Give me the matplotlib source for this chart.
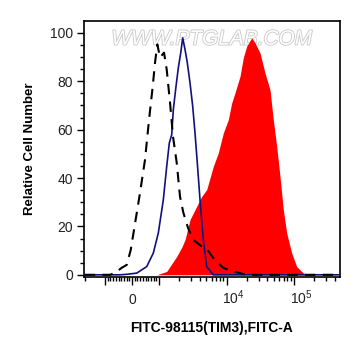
import numpy as np
import matplotlib
matplotlib.use("Agg")
import matplotlib.pyplot as plt
from matplotlib import patheffects, transforms

plt.rcParams['font.family'] = ['Liberation Sans', 'DejaVu Sans']
plt.rcParams['mathtext.fontset'] = 'custom'
plt.rcParams['mathtext.rm'] = 'Liberation Sans'

# control (dashed black)
ctrl_x = [-2000, -815, -630, -381, -196, -48, 296, 481, 630, 767, 852, 937, 1035, 1186,
          1300, 1455, 1612, 1829, 2047, 2291, 2689, 3189, 4292, 5088, 6310, 8874,
          12487, 19923, 60000, 480000]
ctrl_y = [0, 0, 0.8, 2.9, 4.1, 10.3, 33.9, 47.6, 64.1, 77.9, 87.7, 95.2, 89.8, 91.8,
          84.8, 71.2, 57.1, 46.3, 32.3, 25.7, 19.4, 14.5, 11.7, 10.8, 7.0, 2.9,
          1.4, 0, 0, 0]

# second control (navy line)
blue_x = [-2000, -815, -444, -196, 174, 544, 789, 974, 1158, 1300, 1421, 1542, 1629,
          1786, 1931, 2097, 2244, 2428, 2626, 2879, 3157, 3414, 3693, 4050, 4532,
          5088, 6374, 480000]
blue_y = [0, 0, 0, 0.2, 0.7, 3.4, 9.0, 17.3, 31.0, 44.8, 54.5, 57.9, 68.3,
          77.9, 85.5, 91.7, 97.9, 93.1, 87.6, 79.3, 69.6, 58.6, 46.2, 31.0, 14.5,
          3.4, 0, 0]

# FITC-98115 (TIM3) stained sample (red filled)
red_x = [915, 1300, 1829, 2191, 2428, 2879, 3414, 4292, 5088, 6374, 7559, 8966,
         10634, 11940, 13362, 15849, 17740, 19923, 23620, 26431, 31349, 37185,
         44106, 49350, 55407, 62034, 69424, 77944, 92450, 109648, 137340, 193110]
red_y = [0, 1.4, 7.6, 11.6, 14.5, 22.8, 26.9, 32.4, 35.2, 44.8, 50.4, 58.6,
         64.1, 71.0, 75.2, 82.0, 89.7, 94.5, 97.9, 95.9, 91.7, 83.4,
         76.5, 64.1, 53.1, 40.7, 26.9, 17.3, 9.0, 3.4, 0.7, 0]

fig = plt.figure(figsize=(3.61, 3.56), dpi=100)
ax = fig.add_axes([0.2327, 0.2233, 0.709, 0.7185])

ax.fill_between(red_x, red_y, 0, color='#ff0000', lw=0, zorder=2)
ax.plot(blue_x, blue_y, color='#10107f', lw=1.2, zorder=3)
ax.plot(ctrl_x, ctrl_y, color='black', lw=1.5, ls=(0, (5, 3.5)), zorder=4)

ax.set_xscale('symlog', linthresh=1000, linscale=0.36)
ax.set_xlim(-2050, 480000)
ax.set_ylim(-0.7, 105)

ax.set_xticks([-1000, 0, 1000, 10000, 100000])
ax.set_xticklabels(['', '0', '', '$10^4$', '$10^5$'])
minors = [-2000] + list(range(-900, 0, 100)) + list(range(100, 1000, 100))
minors += [m * 1000 for m in range(2, 10)] + [m * 10000 for m in range(2, 10)]
minors += [m * 100000 for m in range(2, 5)]
ax.set_xticks(minors, minor=True)

ax.set_yticks([0, 20, 40, 60, 80, 100])
ax.set_yticks(np.arange(0, 105, 5), minor=True)

ax.tick_params(axis='both', which='major', direction='out', length=5, width=1,
               labelsize=10, labelcolor='#222222', pad=3)
ax.tick_params(axis='both', which='minor', direction='out', length=3, width=1)
ax.tick_params(axis='x', which='major', length=6, pad=14)
shift = transforms.ScaledTranslation(7 / 100, 0, fig.dpi_scale_trans)
for i, lab in enumerate(ax.get_xticklabels()):
    lab.set_va('baseline')
    if i >= 3:
        lab.set_transform(lab.get_transform() + shift)

for s in ax.spines.values():
    s.set_linewidth(1.2)

ax.set_xlabel('FITC-98115(TIM3),FITC-A', fontsize=10, fontweight='bold', labelpad=10)
ax.set_ylabel('Relative Cell Number', fontsize=9.5, fontweight='bold', labelpad=10)

wm = ax.text(0.5, 0.965, 'WWW.PTGLAB.COM', transform=ax.transAxes, ha='center',
             va='top', fontsize=15, color='white', style='italic', zorder=1)
wm.set_path_effects([patheffects.withStroke(linewidth=1.2, foreground='#c8c8c8')])

fig.savefig('out.png', dpi=100)
